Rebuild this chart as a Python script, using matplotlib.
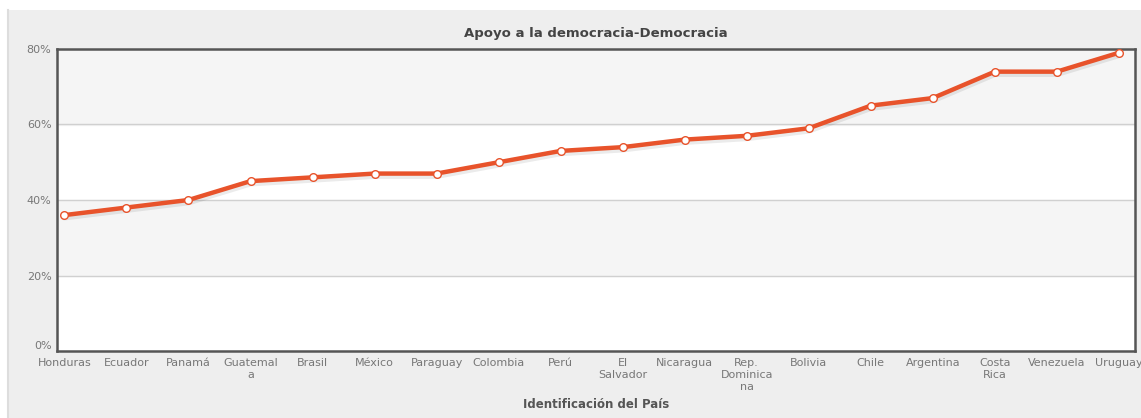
import matplotlib.pyplot as plt
from matplotlib.patches import Rectangle
import matplotlib.ticker as mticker

countries = ['Honduras', 'Ecuador', 'Panamá', 'Guatemal\na', 'Brasil', 'México',
             'Paraguay', 'Colombia', 'Perú', 'El\nSalvador', 'Nicaragua',
             'Rep.\nDominica\nna', 'Bolivia', 'Chile', 'Argentina', 'Costa\nRica',
             'Venezuela', 'Uruguay']
support = [36, 38, 40, 45, 46, 47, 47, 50, 53, 54, 56, 57, 59, 65, 67, 74, 74, 79]
y_ticks = [0, 20, 40, 60, 80]

W, H = 1141, 418
fig = plt.figure(figsize=(W / 100, H / 100), dpi=100)
fig.patch.set_facecolor('white')

# grey panel behind the chart
fig.patches.append(Rectangle((7 / W, 0), 1 - 7 / W, 1 - 10 / H, transform=fig.transFigure,
                             facecolor='#eeeeee', edgecolor='none', zorder=-2))
fig.lines.append(plt.Line2D([7.5 / W, 7.5 / W], [0, 1 - 10 / H], transform=fig.transFigure,
                            color='#dddddd', lw=1.5, zorder=-1))

left, right, top, bottom = 57, 1135, 49, 351
ax = fig.add_axes([left / W, 1 - bottom / H, (right - left) / W, (bottom - top) / H])
ax.set_facecolor('white')

x = list(range(len(countries)))
ax.set_xlim(-0.12, len(countries) - 1 + 0.26)
ax.set_ylim(0, 80)

# alternating bands
for i in range(len(y_ticks) - 1):
    if i % 2 == 1:
        ax.axhspan(y_ticks[i], y_ticks[i + 1], color='#f5f5f5', zorder=0)
for t in y_ticks[1:-1]:
    ax.axhline(t, color='#d0d0d0', lw=1, zorder=1)

# shadow + line
ax.plot(x, [v - 0.5 for v in support], color='#000000', alpha=0.08,
        lw=5, zorder=2, solid_capstyle='round')
ax.plot(x, support, color='#e8532b', lw=3.2, zorder=3, solid_capstyle='round',
        marker='o', markersize=5.5, markerfacecolor='white', markeredgecolor='#e8532b',
        markeredgewidth=1)

ax.set_xticks(x)
ax.set_xticklabels(countries, fontsize=8, color='#777777', linespacing=1.25,
                   va='top', ha='center')
ax.set_yticks(y_ticks)
ax.yaxis.set_major_formatter(mticker.FuncFormatter(lambda v, p: f'{int(v)}%'))
ax.tick_params(axis='y', labelsize=8, labelcolor='#777777', length=0, pad=4)
ax.tick_params(axis='x', length=0, pad=5)
ax.get_yticklabels()[0].set_va('bottom')

for s in ax.spines.values():
    s.set_color('#555555')
    s.set_linewidth(1.8)

ax.set_title('Apoyo a la democracia-Democracia', fontsize=9.5, fontweight='bold',
             color='#444444', pad=9)
ax.set_xlabel('Identificación del País', fontsize=8.5, fontweight='bold',
              color='#555555', labelpad=4)

fig.savefig('out.png', dpi=100, facecolor=fig.get_facecolor())
